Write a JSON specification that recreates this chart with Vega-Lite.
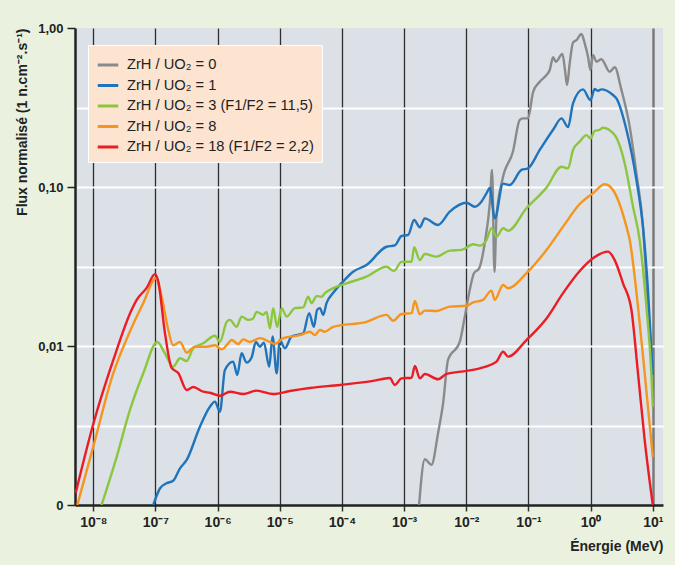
{
"$schema": "https://vega.github.io/schema/vega-lite/v6.json",
"width": 588, "height": 477,
"autosize": {"type": "none"},
"padding": {"left": 75, "top": 28, "right": 12, "bottom": 60},
"background": "#EAF2DF",
"config": {"view": {"fill": "#DBE1E7", "stroke": null}, "font": "Liberation Sans"},
"datasets": {
"g0": [{"E":1.74e-3,"F":1.0e-3},{"E":2.15e-3,"F":1.94e-3},{"E":2.75e-3,"F":1.79e-3},{"E":3.52e-3,"F":2.84e-3},{"E":4.24e-3,"F":4.37e-3},{"E":5.09e-3,"F":8.17e-3},{"E":7.85e-3,"F":1.06e-2},{"E":9.46e-3,"F":1.53e-2},{"E":1.11e-2,"F":2.15e-2},{"E":1.33e-2,"F":2.87e-2},{"E":1.61e-2,"F":3.08e-2},{"E":1.98e-2,"F":4.43e-2},{"E":2.39e-2,"F":7.90e-2},{"E":2.60e-2,"F":0.128},{"E":2.84e-2,"F":2.92e-2},{"E":3.06e-2,"F":6.50e-2},{"E":3.82e-2,"F":0.112},{"E":5.65e-2,"F":0.168},{"E":7.24e-2,"F":0.264},{"E":8.18e-2,"F":0.270},{"E":9.84e-2,"F":0.270},{"E":0.119,"F":0.397},{"E":0.152,"F":0.459},{"E":0.195,"F":0.506},{"E":0.220,"F":0.544},{"E":0.249,"F":0.655},{"E":0.275,"F":0.614},{"E":0.352,"F":0.686},{"E":0.387,"F":0.544},{"E":0.418,"F":0.438},{"E":0.461,"F":0.600},{"E":0.521,"F":0.808},{"E":0.592,"F":0.840},{"E":0.711,"F":0.917},{"E":0.804,"F":0.801},{"E":0.908,"F":0.660},{"E":0.993,"F":0.544},{"E":1.09,"F":0.676},{"E":1.24,"F":0.614},{"E":1.49,"F":0.636},{"E":2.03,"F":0.531},{"E":2.44,"F":0.566},{"E":3.13,"F":0.408},{"E":4.26,"F":0.239},{"E":5.45,"F":0.122},{"E":6.95,"F":5.63e-2},{"E":7.89,"F":2.60e-2},{"E":8.91,"F":1.26e-2},{"E":10,"F":8.17e-3}],
"g1": [{"E":9.23e-8,"F":1.0e-3},{"E":1.18e-7,"F":1.27e-3},{"E":1.51e-7,"F":1.37e-3},{"E":1.93e-7,"F":1.42e-3},{"E":2.48e-7,"F":1.70e-3},{"E":3.18e-7,"F":1.92e-3},{"E":5.19e-7,"F":3.11e-3},{"E":7.52e-7,"F":4.15e-3},{"E":9.06e-7,"F":4.47e-3},{"E":1.09e-6,"F":3.86e-3},{"E":1.31e-6,"F":7.06e-3},{"E":1.78e-6,"F":7.97e-3},{"E":2.07e-6,"F":6.57e-3},{"E":2.43e-6,"F":9.00e-3},{"E":2.92e-6,"F":7.87e-3},{"E":3.52e-6,"F":8.47e-3},{"E":4.13e-6,"F":1.06e-2},{"E":4.79e-6,"F":9.90e-3},{"E":5.55e-6,"F":1.05e-2},{"E":6.76e-6,"F":7.41e-3},{"E":7.66e-6,"F":1.15e-2},{"E":8.89e-6,"F":6.74e-3},{"E":1.00e-5,"F":1.09e-2},{"E":1.21e-5,"F":9.68e-3},{"E":1.55e-5,"F":1.15e-2},{"E":2.38e-5,"F":1.20e-2},{"E":2.97e-5,"F":1.61e-2},{"E":3.53e-5,"F":1.32e-2},{"E":3.99e-5,"F":1.69e-2},{"E":4.42e-5,"F":1.73e-2},{"E":4.99e-5,"F":1.57e-2},{"E":5.65e-5,"F":1.86e-2},{"E":7.23e-5,"F":2.16e-2},{"E":1.04e-4,"F":2.54e-2},{"E":1.51e-4,"F":2.93e-2},{"E":2.48e-4,"F":3.23e-2},{"E":5.21e-4,"F":4.21e-2},{"E":7.08e-4,"F":4.29e-2},{"E":9.08e-4,"F":4.92e-2},{"E":1.16e-3,"F":4.99e-2},{"E":1.45e-3,"F":6.20e-2},{"E":1.79e-3,"F":5.58e-2},{"E":2.15e-3,"F":6.35e-2},{"E":3.52e-3,"F":5.77e-2},{"E":5.43e-3,"F":7.00e-2},{"E":1.01e-2,"F":7.96e-2},{"E":1.37e-2,"F":7.52e-2},{"E":1.75e-2,"F":8.08e-2},{"E":2.11e-2,"F":9.12e-2},{"E":2.39e-2,"F":9.86e-2},{"E":2.87e-2,"F":6.35e-2},{"E":3.91e-2,"F":0.105},{"E":5.00e-2,"F":0.103},{"E":7.71e-2,"F":0.128},{"E":9.84e-2,"F":0.131},{"E":0.152,"F":0.171},{"E":0.249,"F":0.229},{"E":0.340,"F":0.270},{"E":0.434,"F":0.238},{"E":0.521,"F":0.336},{"E":0.755,"F":0.411},{"E":0.993,"F":0.352},{"E":1.16,"F":0.413},{"E":1.32,"F":0.403},{"E":1.49,"F":0.411},{"E":2.29,"F":0.379},{"E":2.60,"F":0.361},{"E":3.77,"F":0.229},{"E":5.45,"F":0.111},{"E":6.95,"F":5.63e-2},{"E":8.37,"F":2.25e-2},{"E":10,"F":6.57e-3}],
"g3": [{"E":1.36e-8,"F":1.0e-3},{"E":2.38e-8,"F":2.01e-3},{"E":3.89e-8,"F":3.96e-3},{"E":6.37e-8,"F":6.74e-3},{"E":1.07e-7,"F":1.06e-2},{"E":1.42e-7,"F":9.00e-3},{"E":1.93e-7,"F":7.41e-3},{"E":2.48e-7,"F":8.37e-3},{"E":3.18e-7,"F":8.05e-3},{"E":4.06e-7,"F":9.68e-3},{"E":5.86e-7,"F":1.04e-2},{"E":9.06e-7,"F":1.16e-2},{"E":1.09e-6,"F":1.06e-2},{"E":1.40e-6,"F":1.42e-2},{"E":1.58e-6,"F":1.46e-2},{"E":2.02e-6,"F":1.32e-2},{"E":2.43e-6,"F":1.53e-2},{"E":3.10e-6,"F":1.46e-2},{"E":3.73e-6,"F":1.49e-2},{"E":4.24e-6,"F":1.64e-2},{"E":5.41e-6,"F":1.57e-2},{"E":6.14e-6,"F":1.64e-2},{"E":6.93e-6,"F":1.29e-2},{"E":7.83e-6,"F":1.73e-2},{"E":9.08e-6,"F":1.32e-2},{"E":1.07e-5,"F":1.73e-2},{"E":1.29e-5,"F":1.53e-2},{"E":1.75e-5,"F":1.73e-2},{"E":2.38e-5,"F":1.75e-2},{"E":2.86e-5,"F":2.04e-2},{"E":3.24e-5,"F":1.86e-2},{"E":3.91e-5,"F":2.06e-2},{"E":4.70e-5,"F":2.04e-2},{"E":5.31e-5,"F":2.15e-2},{"E":7.23e-5,"F":2.31e-2},{"E":1.19e-4,"F":2.48e-2},{"E":2.48e-4,"F":2.73e-2},{"E":5.21e-4,"F":3.15e-2},{"E":6.82e-4,"F":2.96e-2},{"E":9.08e-4,"F":3.38e-2},{"E":1.32e-3,"F":3.39e-2},{"E":1.45e-3,"F":4.18e-2},{"E":1.79e-3,"F":3.47e-2},{"E":2.15e-3,"F":3.79e-2},{"E":3.32e-3,"F":3.65e-2},{"E":5.43e-3,"F":3.98e-2},{"E":8.38e-3,"F":4.02e-2},{"E":1.29e-2,"F":4.36e-2},{"E":1.65e-2,"F":4.28e-2},{"E":2.11e-2,"F":4.64e-2},{"E":2.54e-2,"F":5.50e-2},{"E":3.06e-2,"F":4.87e-2},{"E":3.91e-2,"F":5.50e-2},{"E":4.70e-2,"F":5.31e-2},{"E":9.29e-2,"F":7.35e-2},{"E":0.195,"F":9.91e-2},{"E":0.340,"F":0.134},{"E":0.434,"F":0.131},{"E":0.521,"F":0.171},{"E":0.668,"F":0.193},{"E":0.857,"F":0.212},{"E":0.993,"F":0.202},{"E":1.16,"F":0.225},{"E":1.40,"F":0.229},{"E":1.58,"F":0.236},{"E":2.44,"F":0.212},{"E":3.53,"F":0.141},{"E":4.81,"F":7.52e-2},{"E":6.15,"F":4.64e-2},{"E":7.89,"F":1.77e-2},{"E":9.48,"F":6.74e-3},{"E":10,"F":4.15e-3}],
"g8": [{"E":5.53e-9,"F":1.0e-3},{"E":1e-8,"F":2.33e-3},{"E":2.10e-8,"F":6.74e-3},{"E":3.66e-8,"F":1.17e-2},{"E":6.37e-8,"F":1.86e-2},{"E":1.02e-7,"F":2.67e-2},{"E":1.26e-7,"F":2.04e-2},{"E":1.61e-7,"F":1.26e-2},{"E":1.93e-7,"F":1.01e-2},{"E":2.48e-7,"F":1.06e-2},{"E":3.18e-7,"F":9.08e-3},{"E":4.32e-7,"F":9.90e-3},{"E":6.65e-7,"F":9.90e-3},{"E":9.06e-7,"F":1.01e-2},{"E":1.16e-6,"F":9.53e-3},{"E":1.48e-6,"F":1.04e-2},{"E":1.68e-6,"F":1.09e-2},{"E":2.14e-6,"F":1.03e-2},{"E":2.58e-6,"F":1.10e-2},{"E":3.30e-6,"F":1.06e-2},{"E":4.79e-6,"F":1.12e-2},{"E":6.93e-6,"F":1.06e-2},{"E":8.34e-6,"F":1.03e-2},{"E":1.14e-5,"F":1.12e-2},{"E":2.10e-5,"F":1.17e-2},{"E":3.05e-5,"F":1.23e-2},{"E":3.66e-5,"F":1.17e-2},{"E":4.42e-5,"F":1.26e-2},{"E":5.31e-5,"F":1.23e-2},{"E":7.23e-5,"F":1.32e-2},{"E":2.48e-4,"F":1.42e-2},{"E":5.21e-4,"F":1.57e-2},{"E":6.65e-4,"F":1.44e-2},{"E":9.08e-4,"F":1.59e-2},{"E":1.32e-3,"F":1.61e-2},{"E":1.49e-3,"F":1.92e-2},{"E":1.79e-3,"F":1.58e-2},{"E":2.15e-3,"F":1.67e-2},{"E":3.32e-3,"F":1.66e-2},{"E":5.43e-3,"F":1.77e-2},{"E":1.01e-2,"F":1.79e-2},{"E":1.29e-2,"F":1.88e-2},{"E":1.86e-2,"F":1.95e-2},{"E":2.54e-2,"F":2.23e-2},{"E":2.87e-2,"F":1.95e-2},{"E":3.91e-2,"F":2.42e-2},{"E":4.70e-2,"F":2.31e-2},{"E":9.29e-2,"F":2.87e-2},{"E":0.195,"F":4.02e-2},{"E":0.360,"F":5.63e-2},{"E":0.668,"F":7.82e-2},{"E":1.09,"F":9.12e-2},{"E":1.69,"F":0.104},{"E":2.29,"F":9.58e-2},{"E":3.77,"F":5.63e-2},{"E":4.26,"F":4.64e-2},{"E":5.78,"F":1.77e-2},{"E":7.41,"F":6.74e-3},{"E":10,"F":2.01e-3}],
"g18": [{"E":5.21e-9,"F":1.19e-3},{"E":1e-8,"F":3.23e-3},{"E":2.10e-8,"F":8.17e-3},{"E":4.14e-8,"F":1.69e-2},{"E":4.99e-8,"F":1.95e-2},{"E":7.23e-8,"F":2.32e-2},{"E":9.82e-8,"F":2.83e-2},{"E":1.11e-7,"F":2.54e-2},{"E":1.42e-7,"F":1.21e-2},{"E":1.82e-7,"F":7.28e-3},{"E":2.33e-7,"F":6.76e-3},{"E":3.18e-7,"F":5.29e-3},{"E":4.06e-7,"F":5.52e-3},{"E":5.86e-7,"F":5.16e-3},{"E":7.52e-7,"F":5.08e-3},{"E":1.09e-6,"F":4.87e-3},{"E":1.58e-6,"F":5.16e-3},{"E":2.58e-6,"F":4.99e-3},{"E":4.24e-6,"F":5.24e-3},{"E":7.83e-6,"F":4.99e-3},{"E":1.45e-5,"F":5.21e-3},{"E":3.05e-5,"F":5.44e-3},{"E":9.25e-5,"F":5.69e-3},{"E":3.18e-4,"F":6.03e-3},{"E":5.89e-4,"F":6.29e-3},{"E":7.08e-4,"F":5.69e-3},{"E":9.08e-4,"F":6.26e-3},{"E":1.32e-3,"F":6.32e-3},{"E":1.49e-3,"F":7.48e-3},{"E":1.79e-3,"F":6.26e-3},{"E":2.15e-3,"F":6.67e-3},{"E":3.52e-3,"F":6.18e-3},{"E":4.81e-3,"F":6.67e-3},{"E":1.01e-2,"F":6.97e-3},{"E":1.65e-2,"F":7.24e-3},{"E":3.06e-2,"F":7.97e-3},{"E":3.91e-2,"F":9.21e-3},{"E":4.70e-2,"F":8.57e-3},{"E":9.29e-2,"F":1.09e-2},{"E":0.195,"F":1.49e-2},{"E":0.360,"F":2.15e-2},{"E":0.668,"F":2.96e-2},{"E":1.09,"F":3.56e-2},{"E":1.91,"F":3.92e-2},{"E":2.44,"F":3.47e-2},{"E":3.32,"F":2.48e-2},{"E":4.53,"F":1.69e-2},{"E":5.78,"F":6.74e-3},{"E":7.41,"F":2.56e-3},{"E":10,"F":1.0e-3}]
},
"encoding": {
  "x": {"field": "E", "type": "quantitative",
    "scale": {"type": "log", "domain": [5.08e-9, 14.6], "nice": false},
    "axis": {"title": "Énergie (MeV)", "values": [1e-8,1e-7,1e-6,1e-5,1e-4,1e-3,1e-2,1e-1,1,10],
      "labelExpr": "['10⁻⁸','10⁻⁷','10⁻⁶','10⁻⁵','10⁻⁴','10⁻³','10⁻²','10⁻¹','10⁰','10¹'][round(log(datum.value)/LN10)+8]",
      "labelFont": "Liberation Sans", "labelFontWeight": "bold", "labelFontSize": 14, "labelColor": "#222222", "labelPadding": 4, "labelFlush": false,
      "tickSize": 6, "tickColor": "#333333", "tickWidth": 1.5,
      "domainColor": "#222222", "domainWidth": 2.5,
      "grid": true,
      "gridColor": {"condition": {"test": "datum.value == 10", "value": "#7a7a7a"}, "value": "#2e2e2e"},
      "gridWidth": {"condition": {"test": "datum.value == 10", "value": 2.5}, "value": 1.3},
      "titleAnchor": "end", "titleFont": "Liberation Sans", "titleFontSize": 14, "titleFontWeight": "bold", "titleColor": "#222222", "titlePadding": 10}},
  "y": {"field": "F", "type": "quantitative",
    "scale": {"type": "log", "domain": [0.001, 1], "nice": false},
    "axis": {"title": "Flux normalisé (1 n.cm⁻².s⁻¹)", "values": [0.001, 0.00316, 0.01, 0.0316, 0.1, 0.316, 1],
      "labelExpr": "datum.value == 1 ? '1,00' : datum.value == 0.1 ? '0,10' : datum.value == 0.01 ? '0,01' : datum.value == 0.001 ? '0' : ''",
      "labelFont": "Liberation Sans", "labelFontWeight": "bold", "labelFontSize": 13, "labelColor": "#222222", "labelPadding": 4,
      "tickOpacity": {"condition": {"test": "datum.value == 1 || datum.value == 0.1 || datum.value == 0.01 || datum.value == 0.001", "value": 1}, "value": 0},
      "tickSize": 8, "tickColor": "#222222", "tickWidth": 1.5,
      "domainColor": "#222222", "domainWidth": 2.5,
      "grid": true, "gridColor": "#ffffff", "gridWidth": 2,
      "gridOpacity": {"condition": {"test": "datum.value == 1 || datum.value == 0.001", "value": 0}, "value": 1},
      "titleAnchor": "end", "titleFont": "Liberation Sans", "titleFontSize": 14, "titleFontWeight": "bold", "titleColor": "#222222", "titlePadding": 8}},
  "color": {"type": "nominal",
    "scale": {"domain": ["ZrH / UO₂ = 0", "ZrH / UO₂ = 1", "ZrH / UO₂ = 3 (F1/F2 = 11,5)", "ZrH / UO₂ = 8", "ZrH / UO₂ = 18 (F1/F2 = 2,2)"],
              "range": ["#8a8a8a", "#1f74bb", "#8cc63e", "#f7941d", "#ec1c24"]},
    "legend": {"orient": "none", "legendX": 13, "legendY": 17, "title": null,
      "fillColor": "#fce4d0", "strokeColor": "#ffffff", "padding": 8,
      "symbolType": "stroke", "symbolStrokeWidth": 3, "symbolSize": 420,
      "labelFont": "Liberation Sans", "labelFontSize": 14.7, "labelColor": "#222222", "labelOffset": 7, "labelLimit": 0, "rowPadding": 1.5}}
},
"layer": [
  {"data": {"name": "g0"}, "mark": {"type": "line", "strokeWidth": 2.4, "clip": true, "interpolate": "monotone"}, "encoding": {"color": {"datum": "ZrH / UO₂ = 0"}}},
  {"data": {"name": "g1"}, "mark": {"type": "line", "strokeWidth": 2.4, "clip": true, "interpolate": "monotone"}, "encoding": {"color": {"datum": "ZrH / UO₂ = 1"}}},
  {"data": {"name": "g3"}, "mark": {"type": "line", "strokeWidth": 2.4, "clip": true, "interpolate": "monotone"}, "encoding": {"color": {"datum": "ZrH / UO₂ = 3 (F1/F2 = 11,5)"}}},
  {"data": {"name": "g8"}, "mark": {"type": "line", "strokeWidth": 2.4, "clip": true, "interpolate": "monotone"}, "encoding": {"color": {"datum": "ZrH / UO₂ = 8"}}},
  {"data": {"name": "g18"}, "mark": {"type": "line", "strokeWidth": 2.4, "clip": true, "interpolate": "monotone"}, "encoding": {"color": {"datum": "ZrH / UO₂ = 18 (F1/F2 = 2,2)"}}}
]
}
